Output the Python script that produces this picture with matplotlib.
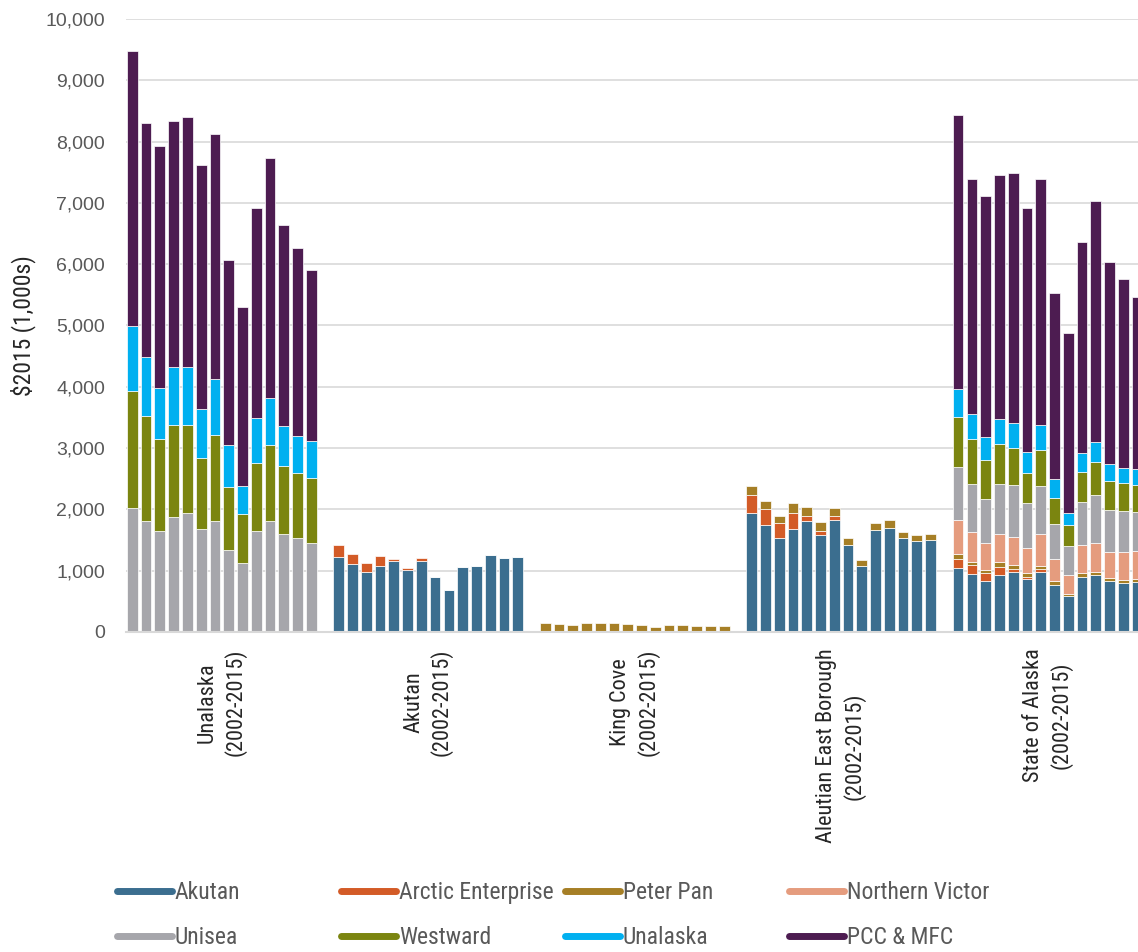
import matplotlib
matplotlib.use("Agg")
import matplotlib.pyplot as plt
from matplotlib.lines import Line2D
from matplotlib import font_manager
import numpy as np

# ---------------- data ----------------
groups = ["Unalaska\n(2002-2015)", "Akutan\n(2002-2015)", "King Cove\n(2002-2015)",
          "Aleutian East Borough\n(2002-2015)", "State of Alaska\n(2002-2015)"]
years = list(range(2002, 2016))

series_names = ["Akutan", "Arctic Enterprise", "Peter Pan", "Northern Victor",
                "Unisea", "Westward", "Unalaska", "PCC & MFC"]
series_colors = ["#3B6E8F", "#D35B27", "#A67F26", "#E59C7E",
                 "#A6A6AB", "#7B8510", "#00B0F0", "#4D1C51"]

# Unalaska (2002-2015)
unalaska_unisea = [2020, 1810, 1640, 1870, 1940, 1680, 1810, 1340, 1120, 1640, 1810, 1600, 1540, 1450]
unalaska_westward = [1910, 1720, 1510, 1510, 1430, 1160, 1400, 1030, 800, 1120, 1240, 1100, 1060, 1070]
unalaska_unalaska = [1060, 960, 830, 950, 950, 790, 920, 680, 460, 730, 760, 660, 590, 600]
unalaska_pcc = [4480, 3810, 3950, 4000, 4080, 3990, 4000, 3020, 2920, 3420, 3920, 3280, 3080, 2790]

# Akutan (2002-2015)
akutan_akutan = [1230, 1104, 978, 1071, 1153, 1005, 1158, 902, 689, 1060, 1082, 1257, 1208, 1230]
akutan_arctic = [185, 170, 153, 170, 40, 40, 50, 0, 0, 0, 0, 0, 0, 0]

# King Cove (2002-2015)
kingcove_peterpan = [142, 126, 115, 153, 153, 148, 126, 120, 87, 109, 115, 104, 98, 98]

# Aleutian East Borough (2002-2015)
aeb_akutan = [1935, 1739, 1533, 1685, 1804, 1587, 1821, 1413, 1076, 1663, 1701, 1527, 1478, 1495]
aeb_arctic = [293, 266, 244, 255, 82, 60, 70, 0, 0, 0, 0, 0, 0, 0]
aeb_peterpan = [147, 125, 120, 163, 152, 152, 131, 125, 98, 120, 125, 109, 109, 108]

# State of Alaska (2002-2015)
state_akutan = [1051, 945, 835, 922, 985, 862, 986, 760, 580, 900, 922, 827, 805, 810]
state_arctic = [146, 140, 132, 132, 40, 35, 40, 0, 0, 0, 0, 0, 0, 0]
state_peterpan = [78, 60, 47, 80, 70, 70, 55, 75, 45, 65, 58, 55, 48, 60]
state_northernvictor = [551, 492, 445, 472, 455, 410, 525, 348, 300, 460, 478, 425, 455, 455]
state_unisea = [859, 775, 710, 805, 840, 720, 770, 575, 480, 702, 780, 680, 665, 625]
state_westward = [815, 735, 640, 650, 615, 495, 600, 435, 345, 475, 540, 478, 450, 455]
state_unalaska = [461, 416, 366, 412, 400, 340, 405, 300, 195, 318, 320, 280, 260, 255]
state_pcc = [4477, 3820, 3943, 3988, 4090, 3990, 4005, 3030, 2930, 3435, 3930, 3290, 3080, 2800]

y_ticks = [0, 1000, 2000, 3000, 4000, 5000, 6000, 7000, 8000, 9000, 10000]
y_label = "$2015 (1,000s)"

group_data = [
    {"Unisea": unalaska_unisea, "Westward": unalaska_westward,
     "Unalaska": unalaska_unalaska, "PCC & MFC": unalaska_pcc},
    {"Akutan": akutan_akutan, "Arctic Enterprise": akutan_arctic},
    {"Peter Pan": kingcove_peterpan},
    {"Akutan": aeb_akutan, "Arctic Enterprise": aeb_arctic, "Peter Pan": aeb_peterpan},
    {"Akutan": state_akutan, "Arctic Enterprise": state_arctic, "Peter Pan": state_peterpan,
     "Northern Victor": state_northernvictor, "Unisea": state_unisea,
     "Westward": state_westward, "Unalaska": state_unalaska, "PCC & MFC": state_pcc},
]

# ---------------- fonts ----------------
avail = {f.name for f in font_manager.fontManager.ttflist}
narrow = "DejaVu Sans"
for cand in ["Liberation Sans Narrow", "Roboto Condensed", "Open Sans Condensed", "Roboto"]:
    if cand in avail:
        narrow = cand
        break
regular = "Liberation Sans" if "Liberation Sans" in avail else "DejaVu Sans"
text_color = "#595959"

# ---------------- figure ----------------
fig = plt.figure(figsize=(11.38, 9.52), dpi=100)
ax = fig.add_axes([126 / 1138, 1 - 632 / 952, 1 - 126 / 1138, (632 - 19) / 952])

slot = 15
bar_w = 0.78
for g, data in enumerate(group_data):
    x = np.arange(len(years)) + g * slot
    bottom = np.zeros(len(years))
    for name, color in zip(series_names, series_colors):
        if name not in data:
            continue
        vals = np.array(data[name], dtype=float)
        ax.bar(x, vals, width=bar_w, bottom=bottom, color=color,
               edgecolor="#ffffff", linewidth=0.5, zorder=3)
        bottom += vals

ax.set_ylim(0, 10000)
ax.set_xlim(-0.46, 4 * slot + 13.07)
ax.set_yticks(y_ticks)
ax.set_yticklabels([f"{v:,}" for v in y_ticks], fontsize=14, family=regular, color=text_color)
ax.tick_params(axis="y", length=0, pad=15)
ax.set_xticks([])
ax.grid(axis="y", color="#d9d9d9", linewidth=1.2, zorder=0)
for s in ["top", "right", "left"]:
    ax.spines[s].set_visible(False)
ax.spines["bottom"].set_color("#d9d9d9")
ax.spines["bottom"].set_linewidth(1.5)
ax.spines["bottom"].set_zorder(4)

ax.set_ylabel(y_label, fontsize=17, family=narrow, color="#262626", labelpad=7)

# group labels
for g, lab in enumerate(groups):
    xc = g * slot + 6.5
    ax.text(xc, -0.027, lab, transform=ax.get_xaxis_transform(), rotation=90,
            ha="center", va="top", multialignment="center", fontsize=16,
            family=narrow, color="#262626", linespacing=1.3)

# legend: four columns, two rows each
order_cols = [["Akutan", "Unisea"], ["Arctic Enterprise", "Westward"],
              ["Peter Pan", "Unalaska"], ["Northern Victor", "PCC & MFC"]]
col_x = [117, 341, 565, 789]
cmap = dict(zip(series_names, series_colors))
for cx, names in zip(col_x, order_cols):
    handles = [Line2D([], [], color=cmap[n], linewidth=5, solid_capstyle="round") for n in names]
    leg = fig.legend(handles, names, loc="upper left",
                     bbox_to_anchor=(cx / 1138, 1 - 881 / 952), frameon=False,
                     prop={"family": narrow, "size": 17}, handlelength=2.35,
                     handletextpad=0.1, labelspacing=0.95, borderpad=0, borderaxespad=0)
    for t in leg.get_texts():
        t.set_color(text_color)

fig.savefig("out.png", dpi=100)
